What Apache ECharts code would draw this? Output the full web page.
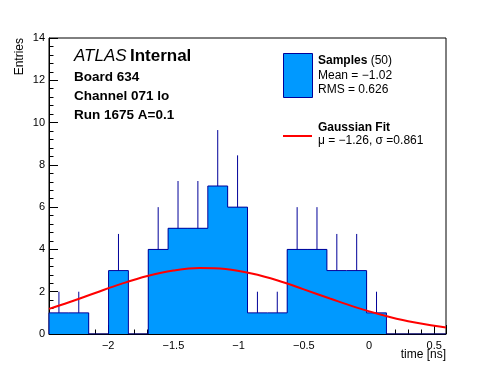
<!DOCTYPE html>
<html>
<head>
<meta charset="utf-8">
<script src="https://cdn.jsdelivr.net/npm/echarts@6/dist/echarts.min.js"></script>
<style>
html,body{margin:0;padding:0;background:#fff;}
#c{width:496px;height:372px;}
</style>
</head>
<body>
<div id="c"></div>
<script>
// Histogram definition (20 bins across the axis range)
var X_MIN = -2.454;
var X_MAX = 0.590;
var N_BINS = 20;
var COUNTS = [1, 1, 0, 3, 0, 4, 5, 5, 7, 6, 1, 1, 4, 4, 3, 3, 1, 0, 0, 0];
// Gaussian fit curve
var FIT_X = [-2.454, -2.3, -2.1, -1.9, -1.7, -1.5, -1.3, -1.1, -0.9, -0.7, -0.5, -0.3, -0.1, 0.1, 0.3, 0.5, 0.59];
var FIT_Y = [1.19, 1.50, 1.94, 2.37, 2.74, 3.00, 3.12, 3.07, 2.86, 2.53, 2.11, 1.68, 1.26, 0.90, 0.60, 0.39, 0.31];
var Y_TICKS = [0, 2, 4, 6, 8, 10, 12, 14];

var BIN_W = (X_MAX - X_MIN) / N_BINS;
var FILL = '#0099ff', EDGE = '#000099', FIT = '#ff0000';

var bins = COUNTS.map(function (c, i) {
  return [X_MIN + i * BIN_W, X_MIN + (i + 1) * BIN_W, c];
});
var outline = [[X_MIN, 0]];
COUNTS.forEach(function (c, i) { outline.push([X_MIN + i * BIN_W, c]); });
outline.push([X_MAX, COUNTS[N_BINS - 1]]);
outline.push([X_MAX, 0]);
var errs = bins.filter(function (b) { return b[2] > 0; }).map(function (b) {
  return [(b[0] + b[1]) / 2, b[2], b[2] + Math.sqrt(b[2])];
});
var fitData = FIT_X.map(function (x, i) { return [x, FIT_Y[i]]; });

function minus(v) { return String(v).replace('-', '\u2212'); }

var FONT = '"Liberation Sans", Arial, Helvetica, sans-serif';
var chart = echarts.init(document.getElementById('c'), null, {renderer: 'canvas'});
chart.setOption({
  backgroundColor: '#fff',
  animation: false,
  textStyle: {fontFamily: FONT},
  grid: {left: 49, right: 50, top: 38, bottom: 38, show: true, borderColor: '#000', borderWidth: 1, backgroundColor: 'transparent'},
  xAxis: {
    type: 'value', min: X_MIN, max: X_MAX,
    axisLine: {show: true, onZero: false, lineStyle: {color: '#000', width: 1}},
    axisTick: {show: true, inside: true, length: 9, lineStyle: {color: '#000'}},
    minorTick: {show: true, splitNumber: 5, length: 4.5, lineStyle: {color: '#000'}},
    splitLine: {show: false},
    axisLabel: {show: true, showMinLabel: false, showMaxLabel: false, color: '#000', fontSize: 11, fontFamily: FONT, margin: 6, formatter: function (v) { return minus(v); }}
  },
  yAxis: {
    type: 'value', min: Y_TICKS[0], max: Y_TICKS[Y_TICKS.length - 1], interval: 2,
    axisLine: {show: true, onZero: false, lineStyle: {color: '#000', width: 1}},
    axisTick: {show: true, inside: true, length: 9, lineStyle: {color: '#000'}},
    minorTick: {show: true, splitNumber: 5, length: 4.5, lineStyle: {color: '#000'}},
    splitLine: {show: false},
    axisLabel: {color: '#000', fontSize: 11, fontFamily: FONT, margin: 4}
  },
  series: [
    {
      type: 'custom', data: bins, z: 1, clip: true,
      renderItem: function (params, api) {
        var p0 = api.coord([api.value(0), 0]);
        var p1 = api.coord([api.value(1), api.value(2)]);
        var x0 = Math.round(p0[0]), x1 = Math.round(p1[0]);
        var y0 = Math.round(p0[1]), y1 = Math.round(p1[1]);
        return {type: 'rect', shape: {x: x0, y: y1, width: x1 - x0, height: y0 - y1}, style: {fill: FILL}};
      }
    },
    {
      type: 'line', data: outline, step: 'end', symbol: 'none', z: 2,
      lineStyle: {color: EDGE, width: 1}
    },
    {
      type: 'custom', data: errs, z: 3,
      renderItem: function (params, api) {
        var a = api.coord([api.value(0), api.value(1)]);
        var b = api.coord([api.value(0), api.value(2)]);
        return {type: 'line', shape: {x1: a[0], y1: a[1], x2: b[0], y2: b[1]}, style: {stroke: EDGE, lineWidth: 1}};
      }
    },
    {
      type: 'line', data: fitData, smooth: 0.4, symbol: 'none', z: 4,
      lineStyle: {color: FIT, width: 2}
    }
  ],
  graphic: [
    {type: 'text', left: 74, top: 48, style: {text: '{i|ATLAS} {b|Internal}', rich: {i: {fontStyle: 'italic', fontSize: 17, fontFamily: FONT, fill: '#000'}, b: {fontWeight: 'bold', fontSize: 17, fontFamily: FONT, fill: '#000'}}}},
    {type: 'text', left: 74, top: 70, style: {text: 'Board 634', font: 'bold 13.5px ' + FONT, fill: '#000'}},
    {type: 'text', left: 74, top: 89, style: {text: 'Channel 071 lo', font: 'bold 13.5px ' + FONT, fill: '#000'}},
    {type: 'text', left: 74, top: 108, style: {text: 'Run 1675 A=0.1', font: 'bold 13.5px ' + FONT, fill: '#000'}},
    {type: 'rect', shape: {x: 283.5, y: 53.5, width: 29, height: 44}, style: {fill: FILL, stroke: EDGE, lineWidth: 1}},
    {type: 'text', left: 318, top: 55, style: {text: '{b|Samples} {r|(50)}', rich: {b: {fontWeight: 'bold', fontSize: 12, fontFamily: FONT, fill: '#000'}, r: {fontSize: 12, fontFamily: FONT, fill: '#000'}}}},
    {type: 'text', left: 318, top: 70, style: {text: 'Mean = \u22121.02', font: '12px ' + FONT, fill: '#000'}},
    {type: 'text', left: 318, top: 84, style: {text: 'RMS = 0.626', font: '12px ' + FONT, fill: '#000'}},
    {type: 'line', shape: {x1: 283, y1: 136, x2: 312, y2: 136}, style: {stroke: FIT, lineWidth: 2}},
    {type: 'text', left: 318, top: 122, style: {text: 'Gaussian Fit', font: 'bold 12px ' + FONT, fill: '#000'}},
    {type: 'text', left: 318, top: 135, style: {text: '\u03bc = \u22121.26, \u03c3 =0.861', font: '12px ' + FONT, fill: '#000'}},
    {type: 'text', right: 50, top: 349, style: {text: 'time [ns]', font: '12px ' + FONT, fill: '#000'}},
    {type: 'text', x: 14, y: 38, rotation: Math.PI / 2, style: {text: 'Entries', font: '12px ' + FONT, fill: '#000', align: 'right', verticalAlign: 'top'}}
  ]
});
</script>
</body>
</html>
